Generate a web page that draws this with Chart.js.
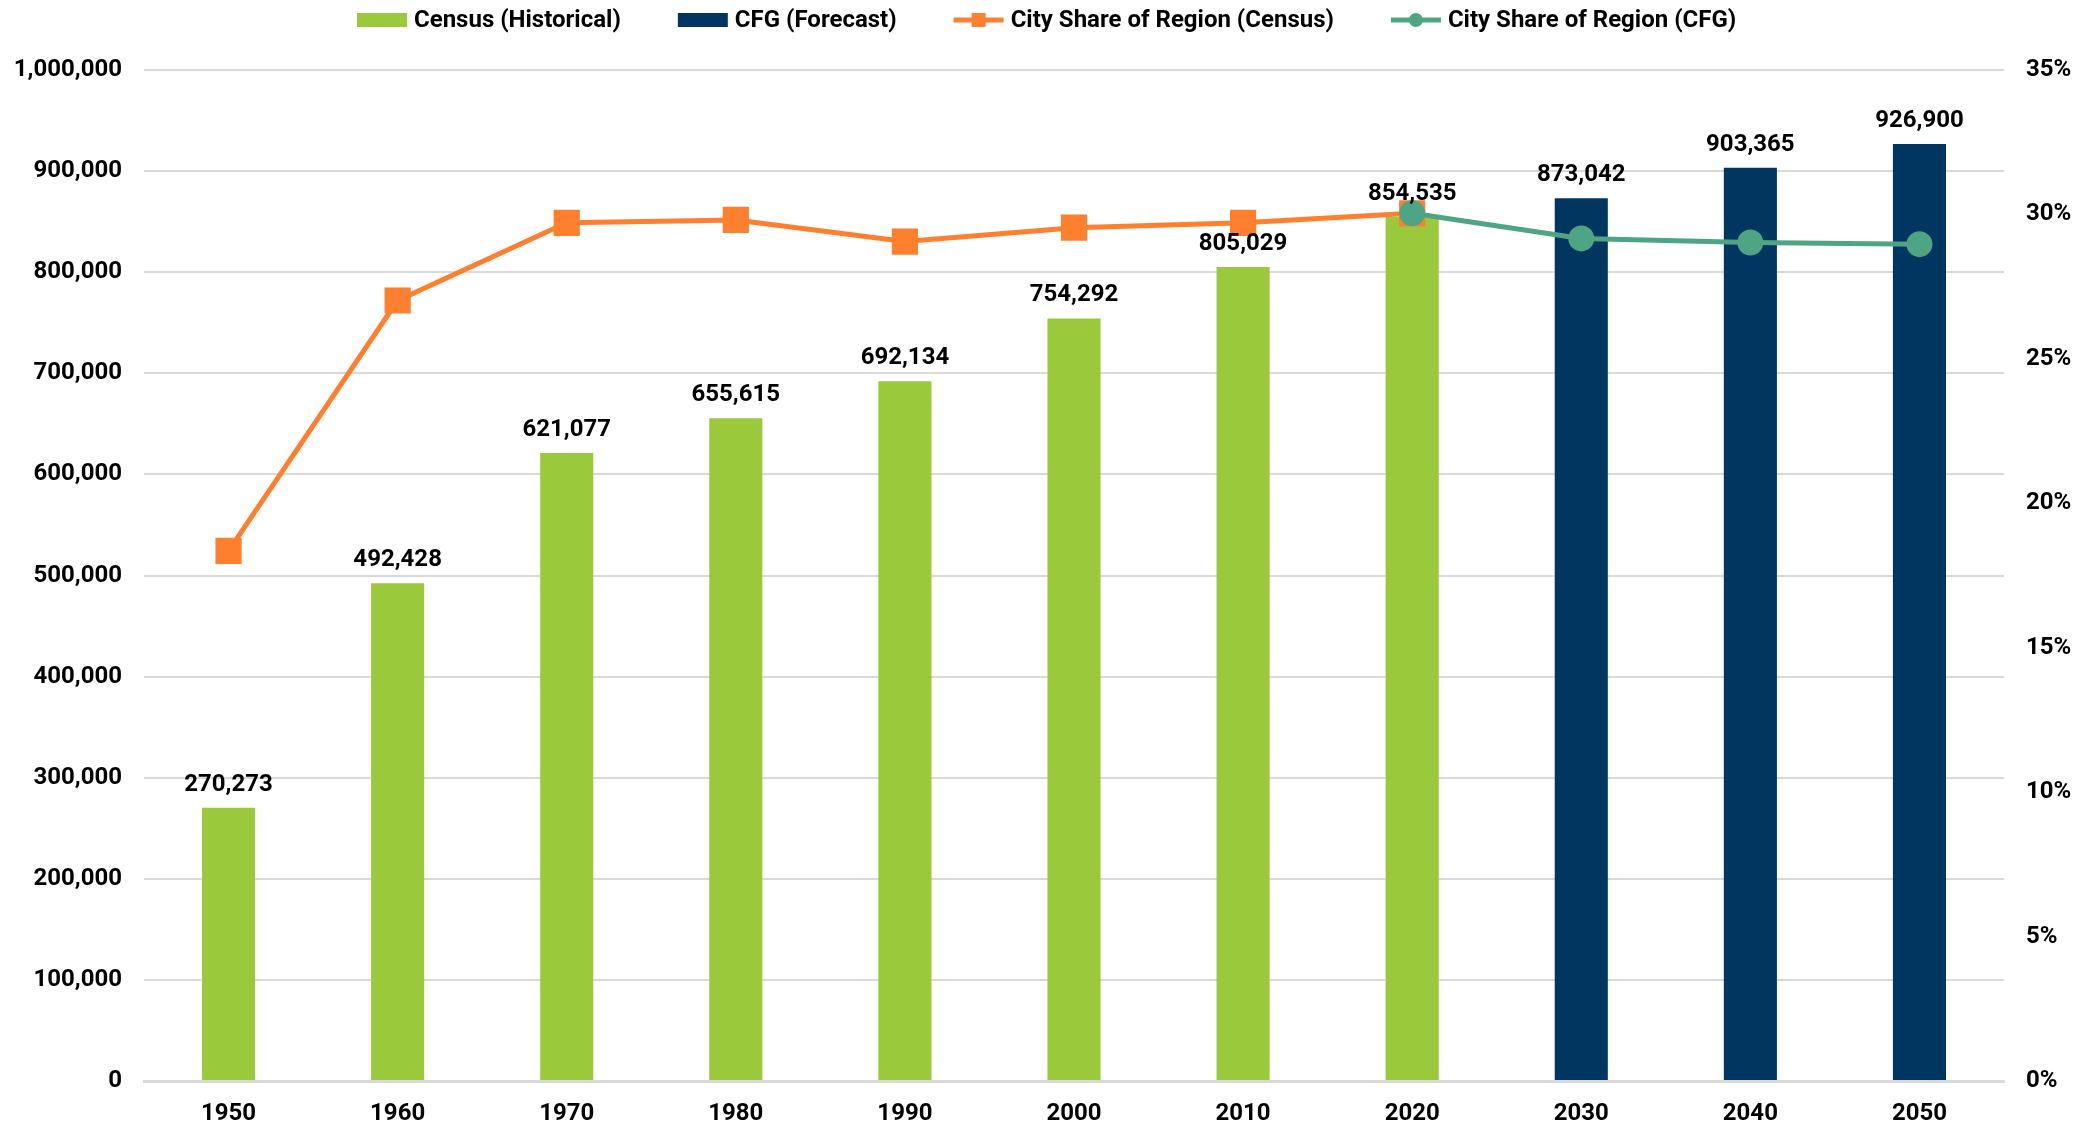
<!DOCTYPE html>
<html>
<head>
<meta charset="utf-8">
<script src="https://cdn.jsdelivr.net/npm/chart.js@4"></script>
<style>
  html, body { margin: 0; padding: 0; background: #fff; }
  canvas { display: block; }
</style>
</head>
<body>
<canvas id="popChart" width="2085" height="1125"></canvas>
<script>
const years = ['1950', '1960', '1970', '1980', '1990', '2000', '2010', '2020', '2030', '2040', '2050'];
const censusPop = [270273, 492428, 621077, 655615, 692134, 754292, 805029, 854535, null, null, null];
const cfgPop = [null, null, null, null, null, null, null, null, 873042, 903365, 926900];
const censusShare = [18.35, 27.02, 29.71, 29.81, 29.06, 29.54, 29.71, 30.04, null, null, null];
const cfgShare = [null, null, null, null, null, null, null, 30.04, 29.17, 29.03, 28.97];

const GREEN = '#9aca3c';
const NAVY = '#003660';
const ORANGE = '#fe7f2d';
const TEAL = '#4ea584';
const FONT = 'Roboto, "Noto Sans", sans-serif';

Chart.defaults.font.family = FONT;
Chart.defaults.font.weight = 'bold';
Chart.defaults.font.size = 24;
Chart.defaults.color = '#000';

// value labels above the bars
const barLabels = {
    id: 'barLabels',
    afterDatasetsDraw(chart) {
        const ctx = chart.ctx;
        ctx.save();
        ctx.font = 'bold 24px ' + FONT;
        ctx.fillStyle = '#000';
        ctx.textAlign = 'center';
        ctx.textBaseline = 'alphabetic';
        chart.data.datasets.forEach(function(ds, i) {
            if (ds.type !== 'bar') return;
            chart.getDatasetMeta(i).data.forEach(function(bar, j) {
                const v = ds.data[j];
                if (v == null) return;
                ctx.fillText(v.toLocaleString('en-US'), bar.x, bar.y - 17);
            });
        });
        ctx.restore();
    }
};

// legend drawn by hand so the line entries get their markers
const topLegend = {
    id: 'topLegend',
    afterDraw(chart) {
        const ctx = chart.ctx;
        const items = [
            { text: 'Census (Historical)', kind: 'box', color: GREEN },
            { text: 'CFG (Forecast)', kind: 'box', color: NAVY },
            { text: 'City Share of Region (Census)', kind: 'line', color: ORANGE, marker: 'rect' },
            { text: 'City Share of Region (CFG)', kind: 'line', color: TEAL, marker: 'circle' }
        ];
        const cy = 20;
        ctx.save();
        ctx.font = 'bold 24px ' + FONT;
        ctx.textBaseline = 'middle';
        let x = 357;
        items.forEach(function(it) {
            ctx.fillStyle = it.color;
            ctx.strokeStyle = it.color;
            if (it.kind === 'box') {
                ctx.fillRect(x, cy - 7, 50, 14);
            } else {
                ctx.lineWidth = 5;
                ctx.beginPath();
                ctx.moveTo(x, cy);
                ctx.lineTo(x + 50, cy);
                ctx.stroke();
                ctx.beginPath();
                if (it.marker === 'rect') {
                    ctx.rect(x + 25 - 7, cy - 7, 14, 14);
                } else {
                    ctx.arc(x + 25, cy, 7, 0, Math.PI * 2);
                }
                ctx.fill();
            }
            ctx.fillStyle = '#000';
            ctx.fillText(it.text, x + 57, cy + 1);
            x += 57 + ctx.measureText(it.text).width + 57;
        });
        ctx.restore();
    }
};

new Chart(document.getElementById('popChart').getContext('2d'), {
    data: {
        labels: years,
        datasets: [
            {
                type: 'line',
                label: 'City Share of Region (CFG)',
                data: cfgShare,
                yAxisID: 'y1',
                borderColor: TEAL,
                backgroundColor: TEAL,
                borderWidth: 5,
                pointStyle: 'circle',
                pointRadius: 10.5,
                pointHoverRadius: 10.5,
                tension: 0,
                order: 0
            },
            {
                type: 'line',
                label: 'City Share of Region (Census)',
                data: censusShare,
                yAxisID: 'y1',
                borderColor: ORANGE,
                backgroundColor: ORANGE,
                borderWidth: 5,
                pointStyle: 'rect',
                pointRadius: 15,
                pointHoverRadius: 15,
                tension: 0,
                order: 1
            },
            {
                type: 'bar',
                label: 'Census (Historical)',
                data: censusPop,
                backgroundColor: GREEN,
                grouped: false,
                categoryPercentage: 1,
                barPercentage: 0.314,
                order: 2
            },
            {
                type: 'bar',
                label: 'CFG (Forecast)',
                data: cfgPop,
                backgroundColor: NAVY,
                grouped: false,
                categoryPercentage: 1,
                barPercentage: 0.314,
                order: 3
            }
        ]
    },
    options: {
        responsive: false,
        animation: false,
        layout: { padding: { top: 70, left: 0, right: 0, bottom: 0 } },
        plugins: {
            legend: { display: false },
            tooltip: { enabled: false }
        },
        scales: {
            x: {
                grid: { display: false, drawTicks: false },
                border: { display: true, color: '#d9d9d9', width: 3 },
                ticks: { padding: 19, maxRotation: 0 },
                afterFit: function(scale) { scale.height = 44; }
            },
            y: {
                position: 'left',
                min: 0,
                max: 1000000,
                ticks: {
                    stepSize: 100000,
                    padding: 22,
                    callback: function(value) { return value.toLocaleString('en-US'); }
                },
                grid: { color: '#d9d9d9', lineWidth: 2, drawTicks: false },
                border: { display: false },
                afterFit: function(scale) { scale.width = 144; }
            },
            y1: {
                position: 'right',
                min: 0,
                max: 35,
                ticks: {
                    stepSize: 5,
                    padding: 22,
                    callback: function(value) { return value + '%'; }
                },
                grid: { display: false, drawTicks: false },
                border: { display: false },
                afterFit: function(scale) { scale.width = 81; }
            }
        }
    },
    plugins: [barLabels, topLegend]
});
</script>
</body>
</html>
